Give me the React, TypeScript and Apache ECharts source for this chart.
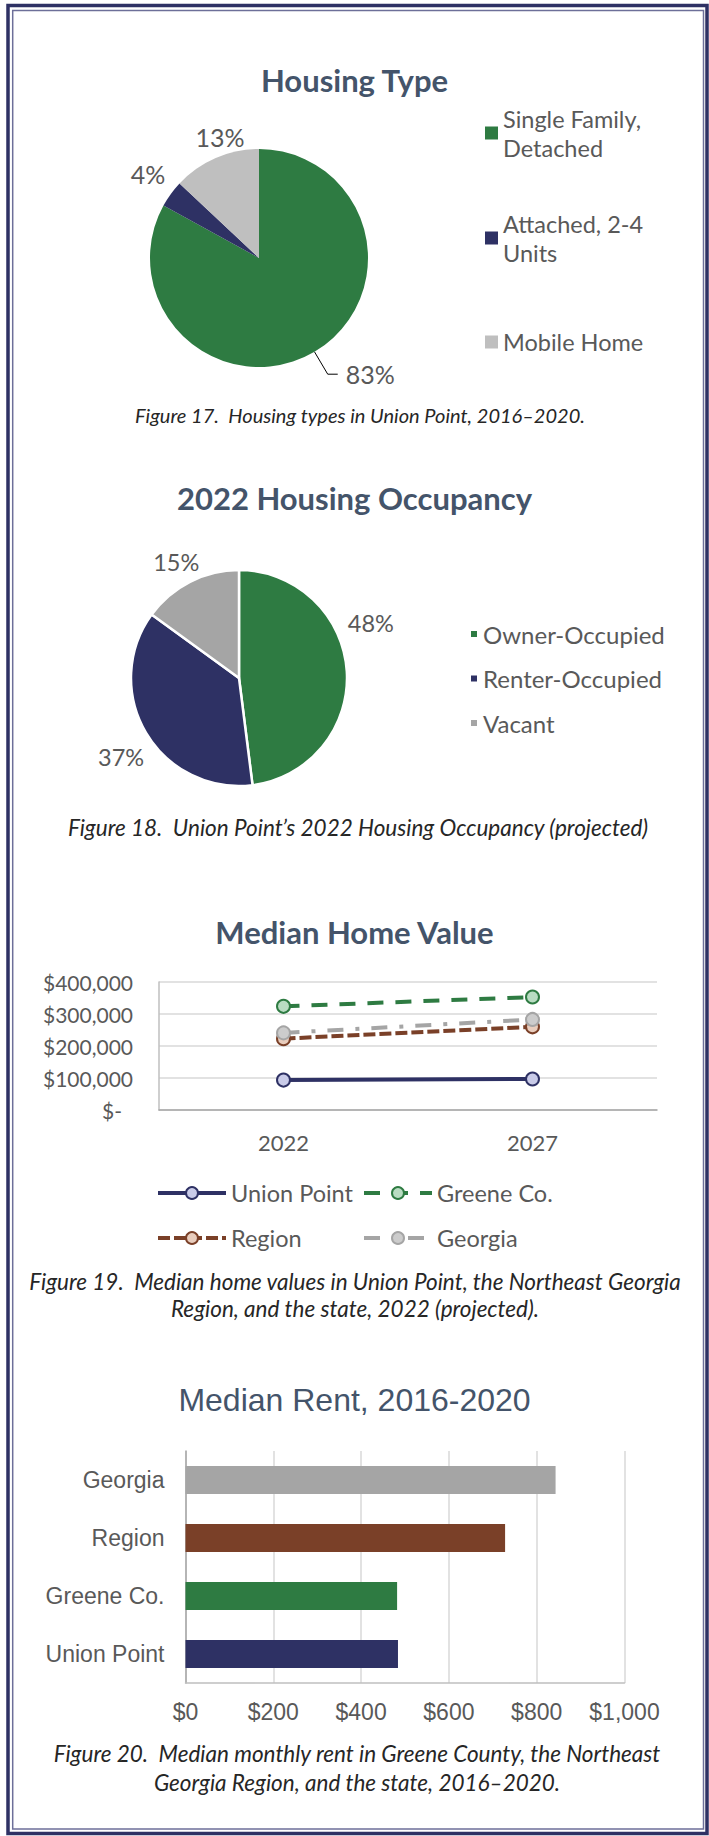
import React, { useEffect, useRef } from 'react';
import * as echarts from 'echarts';

// ---------- data ----------
const housingTypeNames = ['Single Family, Detached', 'Attached, 2-4 Units', 'Mobile Home'];
const housingTypeValues = [83, 4, 13];

const occupancyNames = ['Owner-Occupied', 'Renter-Occupied', 'Vacant'];
const occupancyValues = [48, 37, 15];

const homeValueYears = ['2022', '2027'];
const unionPointHomeValues = [93500, 97000];
const greeneHomeValues = [324000, 353000];
const regionHomeValues = [223000, 260000];
const georgiaHomeValues = [241000, 283000];
const homeValueTicks = [0, 100000, 200000, 300000, 400000];

const rentCategories = ['Union Point', 'Greene Co.', 'Region', 'Georgia'];
const rentValues = [484, 482, 728, 843];
const rentTicks = [0, 200, 400, 600, 800, 1000];

const captions = [
  'Figure 17.\u00a0 Housing types in Union Point, 2016\u20132020.',
  'Figure 18.\u00a0 Union Point\u2019s 2022 Housing Occupancy (projected)',
  'Figure 19.\u00a0 Median home values in Union Point, the Northeast Georgia\nRegion, and the state, 2022 (projected).',
  'Figure 20.\u00a0 Median monthly rent in Greene County, the Northeast\nGeorgia Region, and the state, 2016\u20132020.',
];

// ---------- styles ----------
const GREEN = '#2e7b42';
const NAVY = '#2e3164';
const BROWN = '#7a4028';
const LIGHT_GREY = '#bfbfbf';
const MID_GREY = '#a5a5a5';
const TITLE_COLOR = '#44546a';
const TEXT_COLOR = '#595959';
const LATO = 'Lato, "Noto Sans", sans-serif';
const ARIAL = '"Liberation Sans", Arial, sans-serif';

const pie1Colors = [GREEN, NAVY, LIGHT_GREY];
const pie2Colors = [GREEN, NAVY, MID_GREY];
const rentColors = [NAVY, GREEN, BROWN, MID_GREY];

const legendLabel: Record<string, string> = {
  'Single Family, Detached': 'Single Family,\nDetached',
  'Attached, 2-4 Units': 'Attached, 2-4\nUnits',
};

const pie1Nudge: Record<number, { dx: number; dy: number }> = {
  1: { dx: 6, dy: -15 },
  2: { dx: 37, dy: -14 },
};
const pie2Nudge: Record<number, { dx: number; dy: number }> = {
  0: { dx: -12, dy: -48 },
  1: { dx: 10, dy: 20 },
  2: { dx: 18, dy: -13 },
};

const captionStyles = [
  { x: 360, y: 415, size: 20, lh: 27 },
  { x: 358, y: 827, size: 22.5, lh: 27 },
  { x: 355, y: 1295, size: 22.5, lh: 27 },
  { x: 357, y: 1767.5, size: 22.5, lh: 29 },
];

const money = (v: number) => '$' + v.toLocaleString('en-US');

function buildOption(): any {
  const titleStyle = (family: string, weight: string, size: number) => ({
    fontFamily: family,
    fontWeight: weight,
    fontSize: size,
    color: TITLE_COLOR,
    lineHeight: 36,
  });

  const lineSeries = (
    name: string,
    data: number[],
    color: string,
    fill: string,
    dash: any
  ) => ({
    type: 'line',
    name,
    xAxisIndex: 0,
    yAxisIndex: 0,
    data,
    symbol: 'circle',
    symbolSize: 13,
    lineStyle: { color, width: 4, type: dash, cap: 'butt' },
    itemStyle: { color: fill, borderColor: color, borderWidth: 2 },
    emphasis: { disabled: true },
  });

  const legend3 = (left: number, data: string[]) => ({
    orient: 'vertical',
    left,
    top: 1180,
    padding: 0,
    itemWidth: 68,
    itemHeight: 15,
    itemGap: 19,
    selectedMode: false,
    lineStyle: { width: 4 },
    itemStyle: { borderWidth: 2 },
    textStyle: { fontFamily: LATO, fontSize: 23.5, color: TEXT_COLOR, lineHeight: 26 },
    data,
  });

  return {
    animation: false,
    backgroundColor: '#ffffff',
    title: [
      { text: 'Housing Type', left: 'center', top: 62, padding: 0, textStyle: titleStyle(LATO, 'bold', 31) },
      { text: '2022 Housing Occupancy', left: 'center', top: 480, padding: 0, textStyle: titleStyle(LATO, 'bold', 31) },
      { text: 'Median Home Value', left: 'center', top: 914, padding: 0, textStyle: titleStyle(LATO, 'bold', 31) },
      { text: 'Median Rent, 2016-2020', left: 'center', top: 1382, padding: 0, textStyle: titleStyle(ARIAL, 'normal', 32) },
    ],
    legend: [
      {
        orient: 'vertical',
        left: 485,
        top: 89.5,
        padding: 0,
        itemWidth: 13,
        itemHeight: 13,
        itemGap: 18,
        icon: 'rect',
        selectedMode: false,
        formatter: (n: string) => legendLabel[n] || n,
        textStyle: { fontFamily: LATO, fontSize: 23.5, color: TEXT_COLOR, lineHeight: 29 },
        data: [
          { name: housingTypeNames[0], textStyle: { padding: [29, 0, 0, 0] } },
          { name: housingTypeNames[1], textStyle: { padding: [29, 0, 0, 0] } },
          { name: housingTypeNames[2], textStyle: { padding: [28, 0, 28, 0] } },
        ],
      },
      {
        orient: 'vertical',
        left: 469,
        top: 621,
        padding: 0,
        itemWidth: 8,
        itemHeight: 8,
        itemGap: 18.5,
        icon: 'rect',
        selectedMode: false,
        textStyle: { fontFamily: LATO, fontSize: 24, color: TEXT_COLOR, lineHeight: 26 },
        data: occupancyNames,
      },
      legend3(156, ['Union Point', 'Region']),
      legend3(362, ['Greene Co.', 'Georgia']),
    ],
    grid: [
      { left: 159, top: 982, width: 498, height: 128, containLabel: false },
      { left: 185.5, top: 1451, width: 439, height: 232, containLabel: false },
    ],
    xAxis: [
      {
        type: 'category',
        gridIndex: 0,
        data: homeValueYears,
        boundaryGap: true,
        axisTick: { show: false },
        axisLine: { show: true, lineStyle: { color: '#a6a6a6', width: 1.5 } },
        axisLabel: { fontFamily: LATO, fontSize: 22, color: TEXT_COLOR, margin: 21 },
        splitLine: { show: false },
      },
      {
        type: 'value',
        gridIndex: 1,
        min: rentTicks[0],
        max: rentTicks[rentTicks.length - 1],
        interval: rentTicks[1] - rentTicks[0],
        axisTick: { show: false },
        axisLine: { show: true, lineStyle: { color: '#bfbfbf', width: 1.5 } },
        axisLabel: { fontFamily: ARIAL, fontSize: 23, color: TEXT_COLOR, margin: 17, formatter: money },
        splitLine: { show: true, lineStyle: { color: '#d9d9d9', width: 1.5 } },
      },
    ],
    yAxis: [
      {
        type: 'value',
        gridIndex: 0,
        min: homeValueTicks[0],
        max: homeValueTicks[homeValueTicks.length - 1],
        interval: homeValueTicks[1] - homeValueTicks[0],
        axisTick: { show: false },
        axisLine: { show: true, lineStyle: { color: '#bfbfbf', width: 1.5 } },
        axisLabel: {
          fontFamily: LATO,
          fontSize: 21,
          color: TEXT_COLOR,
          margin: 26,
          formatter: (v: number) => (v === 0 ? '{z|$-}' : money(v)),
          rich: { z: { fontFamily: LATO, fontSize: 21, color: TEXT_COLOR, padding: [0, 11, 0, 0] } },
        },
        splitLine: { show: true, lineStyle: { color: '#d9d9d9', width: 1.5 } },
      },
      {
        type: 'category',
        gridIndex: 1,
        data: rentCategories,
        axisTick: { show: false },
        axisLine: { show: true, lineStyle: { color: '#a6a6a6', width: 1.5 } },
        axisLabel: { fontFamily: ARIAL, fontSize: 23, color: TEXT_COLOR, margin: 21 },
        splitLine: { show: false },
      },
    ],
    series: [
      {
        type: 'pie',
        center: [259, 258],
        radius: 109,
        startAngle: 90,
        clockwise: true,
        avoidLabelOverlap: false,
        emphasis: { disabled: true },
        data: housingTypeNames.map((n, i) => ({
          name: n,
          value: housingTypeValues[i],
          itemStyle: { color: pie1Colors[i] },
          ...(i === 0
            ? {
                labelLine: { show: true, length: 26, length2: 10, lineStyle: { color: '#000', width: 1 } },
                label: { padding: [0, 0, 19, 3] },
              }
            : {}),
        })),
        label: {
          show: true,
          position: 'outside',
          formatter: (p: any) => p.value + '%',
          fontFamily: LATO,
          fontSize: 25,
          color: TEXT_COLOR,
        },
        labelLine: { show: false, length: 8, length2: 0, smooth: false },
        labelLayout: (p: any) => pie1Nudge[p.dataIndex] || {},
      },
      {
        type: 'pie',
        center: [239, 678],
        radius: 108,
        startAngle: 90,
        clockwise: true,
        avoidLabelOverlap: false,
        emphasis: { disabled: true },
        itemStyle: { borderColor: '#ffffff', borderWidth: 2.5 },
        data: occupancyNames.map((n, i) => ({
          name: n,
          value: occupancyValues[i],
          itemStyle: { color: pie2Colors[i] },
        })),
        label: {
          show: true,
          position: 'outside',
          formatter: (p: any) => p.value + '%',
          fontFamily: LATO,
          fontSize: 23.5,
          color: TEXT_COLOR,
        },
        labelLine: { show: false, length: 8, length2: 0 },
        labelLayout: (p: any) => pie2Nudge[p.dataIndex] || {},
      },
      lineSeries('Union Point', unionPointHomeValues, NAVY, '#c9cbe8', 'solid'),
      lineSeries('Greene Co.', greeneHomeValues, GREEN, '#b9dcc2', [16, 12]),
      lineSeries('Region', regionHomeValues, BROWN, '#e9cdbd', [12, 4]),
      lineSeries('Georgia', georgiaHomeValues, MID_GREY, '#cccccc', [16, 12, 4, 12]),
      {
        type: 'bar',
        xAxisIndex: 1,
        yAxisIndex: 1,
        barWidth: 28,
        emphasis: { disabled: true },
        data: rentValues.map((v, i) => ({ value: v, itemStyle: { color: rentColors[i] } })),
      },
    ],
    graphic: [
      {
        type: 'rect',
        silent: true,
        shape: { x: 8, y: 5.5, width: 699, height: 1828 },
        style: { fill: 'none', stroke: NAVY, lineWidth: 3.5 },
      },
      {
        type: 'rect',
        silent: true,
        shape: { x: 12.7, y: 10.5, width: 690.8, height: 1818.5 },
        style: { fill: 'none', stroke: '#6d6f99', lineWidth: 1.5 },
      },
      ...captionStyles.map((c, i) => ({
        type: 'text',
        silent: true,
        x: c.x,
        y: c.y,
        style: {
          text: captions[i],
          fontFamily: LATO,
          fontStyle: 'italic',
          fontSize: c.size,
          lineHeight: c.lh,
          fill: '#262626',
          align: 'center',
          verticalAlign: 'middle',
        },
      })),
    ],
  };
}

export default function App() {
  const ref = useRef<HTMLDivElement>(null);
  useEffect(() => {
    if (!ref.current) return;
    const chart = echarts.init(ref.current, undefined, { renderer: 'svg' });
    chart.setOption(buildOption());
    return () => chart.dispose();
  }, []);
  return (
    <div
      ref={ref}
      style={{ position: 'absolute', left: 0, top: 0, width: 709, height: 1836, background: '#fff' }}
    />
  );
}
